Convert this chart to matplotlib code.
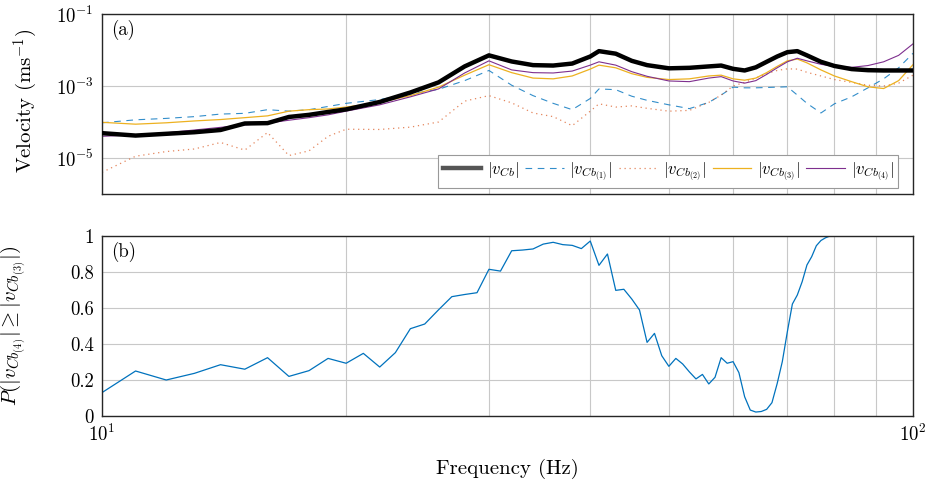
import numpy as np
import matplotlib
matplotlib.use("Agg")
import matplotlib.pyplot as plt
from matplotlib.ticker import FixedLocator, NullLocator, NullFormatter

plt.rcParams['font.family'] = 'serif'
plt.rcParams['font.serif'] = ['cmr10']
plt.rcParams['mathtext.fontset'] = 'cm'
plt.rcParams['axes.formatter.use_mathtext'] = True
plt.rcParams['axes.unicode_minus'] = False

# ---------------- data ----------------
freq_top = [10, 11, 12, 13, 14, 15, 16, 17, 18, 19, 20, 22, 24, 26, 28, 30, 32, 34, 36, 38,
            40, 41, 43, 45, 47, 50, 53, 56, 58, 60, 62, 64, 66, 68, 70, 72, 74, 77, 80, 84,
            88, 92, 96, 100]

v_cb = [4.9e-5, 4.2e-5, 4.7e-5, 5.2e-5, 6.0e-5, 9.1e-5, 9.3e-5, 1.38e-4, 1.58e-4, 1.9e-4,
        2.24e-4, 3.6e-4, 6.6e-4, 1.26e-3, 3.5e-3, 7.1e-3, 4.8e-3, 3.8e-3, 3.7e-3, 4.2e-3,
        6.6e-3, 9.3e-3, 7.9e-3, 5.0e-3, 3.8e-3, 3.1e-3, 3.2e-3, 3.5e-3, 3.7e-3, 3.0e-3,
        2.7e-3, 3.3e-3, 4.7e-3, 6.6e-3, 8.7e-3, 9.3e-3, 7.1e-3, 4.7e-3, 3.6e-3, 2.95e-3,
        2.75e-3, 2.7e-3, 2.7e-3, 2.7e-3]

v_cb1 = [9.5e-5, 1.15e-4, 1.26e-4, 1.41e-4, 1.66e-4, 1.74e-4, 2.2e-4, 2.0e-4, 2.2e-4, 2.7e-4,
         3.3e-4, 4.2e-4, 6.0e-4, 8.1e-4, 1.41e-3, 2.7e-3, 1.05e-3, 5.4e-4, 3.3e-4, 2.2e-4,
         4.5e-4, 8.3e-4, 7.9e-4, 5.2e-4, 4.0e-4, 3.0e-4, 2.35e-4, 3.5e-4, 5.6e-4, 9.3e-4,
         8.9e-4, 8.9e-4, 9.1e-4, 9.3e-4, 9.5e-4, 5.6e-4, 3.3e-4, 1.78e-4, 3.2e-4, 5.0e-4,
         8.9e-4, 1.58e-3, 3.2e-3, 8.1e-3]

v_cb2 = [4.0e-6, 1.12e-5, 1.51e-5, 1.78e-5, 2.7e-5, 1.66e-5, 5.1e-5, 1.17e-5, 1.58e-5, 4.0e-5,
         6.3e-5, 6.2e-5, 7.2e-5, 1.0e-4, 3.8e-4, 5.4e-4, 3.4e-4, 1.78e-4, 1.41e-4, 7.9e-5,
         2.0e-4, 3.2e-4, 2.6e-4, 2.8e-4, 2.4e-4, 2.0e-4, 2.1e-4, 3.5e-4, 5.6e-4, 1.0e-3,
         1.26e-3, 1.66e-3, 2.2e-3, 2.7e-3, 3.0e-3, 2.95e-3, 2.4e-3, 1.9e-3, 1.51e-3, 1.26e-3,
         1.05e-3, 1.0e-3, 1.2e-3, 2.0e-3]

v_cb3 = [9.8e-5, 8.7e-5, 9.5e-5, 1.07e-4, 1.17e-4, 1.32e-4, 1.48e-4, 2.0e-4, 2.2e-4, 2.3e-4,
         2.6e-4, 3.5e-4, 5.4e-4, 9.3e-4, 2.0e-3, 3.9e-3, 2.35e-3, 1.66e-3, 1.58e-3, 1.9e-3,
         2.95e-3, 3.8e-3, 3.2e-3, 2.2e-3, 1.74e-3, 1.51e-3, 1.58e-3, 1.9e-3, 2.0e-3, 1.58e-3,
         1.45e-3, 1.66e-3, 2.35e-3, 3.5e-3, 5.0e-3, 5.6e-3, 4.4e-3, 2.8e-3, 1.9e-3, 1.32e-3,
         9.5e-4, 8.5e-4, 1.41e-3, 3.9e-3]

v_cb4 = [4.0e-5, 4.4e-5, 5.0e-5, 6.0e-5, 7.1e-5, 8.3e-5, 9.3e-5, 1.12e-4, 1.32e-4, 1.58e-4,
         2.0e-4, 3.0e-4, 5.0e-4, 8.3e-4, 2.3e-3, 5.0e-3, 2.8e-3, 2.35e-3, 2.3e-3, 2.6e-3,
         3.8e-3, 4.7e-3, 3.8e-3, 2.5e-3, 1.86e-3, 1.38e-3, 1.32e-3, 1.66e-3, 1.82e-3, 1.38e-3,
         1.2e-3, 1.41e-3, 2.1e-3, 3.2e-3, 4.7e-3, 5.9e-3, 5.0e-3, 4.0e-3, 3.5e-3, 3.3e-3,
         3.7e-3, 4.7e-3, 7.1e-3, 1.48e-2]

freq_p = list(range(10, 101))
prob = [0.13, 0.25, 0.20, 0.237, 0.285, 0.26, 0.324, 0.22, 0.252, 0.32,
        0.293, 0.348, 0.272, 0.352, 0.485, 0.511, 0.59, 0.663, 0.675, 0.685,
        0.815, 0.805, 0.918, 0.922, 0.928, 0.955, 0.965, 0.952, 0.948, 0.93,
        0.972, 0.837, 0.90, 0.698, 0.704, 0.65, 0.589, 0.409, 0.459, 0.335,
        0.276, 0.32, 0.289, 0.245, 0.206, 0.231, 0.178, 0.215, 0.324, 0.293,
        0.302, 0.241, 0.107, 0.033, 0.022, 0.025, 0.037, 0.074, 0.18, 0.302,
        0.469, 0.622, 0.672, 0.746, 0.839, 0.885, 0.946, 0.975, 0.99, 1.0,
        1.0, 1.0, 1.0, 1.0, 1.0, 1.0, 1.0, 1.0, 1.0, 1.0,
        1.0, 1.0, 1.0, 1.0, 1.0, 1.0, 1.0, 1.0, 1.0, 1.0, 1.0]

labels = [r'$|v_{Cb}|$', r'$|v_{Cb_{(1)}}|$', r'$|v_{Cb_{(2)}}|$',
          r'$|v_{Cb_{(3)}}|$', r'$|v_{Cb_{(4)}}|$']

# ---------------- figure ----------------
W, H = 932, 480
fig = plt.figure(figsize=(W / 100, H / 100), dpi=100)

def rect(x0, y0, x1, y1):
    return [x0 / W, 1 - y1 / H, (x1 - x0) / W, (y1 - y0) / H]

ax1 = fig.add_axes(rect(102, 14, 913, 194))
ax2 = fig.add_axes(rect(102, 236, 913, 416))

grid_c = '#c8c8c8'
spine_c = '#262626'
fs_tick = 13.5
fs_lab = 15

for ax in (ax1, ax2):
    ax.set_xscale('log')
    ax.set_xlim(10, 100)
    ax.xaxis.set_major_locator(FixedLocator([10, 100]))
    ax.xaxis.set_minor_locator(FixedLocator([20, 30, 40, 50, 60, 70, 80, 90]))
    ax.xaxis.set_minor_formatter(NullFormatter())
    ax.grid(True, which='major', color=grid_c, lw=0.8)
    ax.grid(True, which='minor', axis='x', color=grid_c, lw=0.8)
    ax.set_axisbelow(True)
    ax.tick_params(which='both', length=0, labelsize=fs_tick, pad=6)
    for s in ax.spines.values():
        s.set_color(spine_c)
        s.set_linewidth(1.0)

# top panel
ax1.plot(freq_top, v_cb, color='black', lw=3.2, label=labels[0], zorder=5)
ax1.plot(freq_top, v_cb1, color='#0072BD', lw=0.8, ls=(0, (6, 5)), alpha=0.8, label=labels[1])
ax1.plot(freq_top, v_cb2, color='#D95319', lw=0.9, ls=(0, (1, 3)), alpha=0.7, label=labels[2])
ax1.plot(freq_top, v_cb3, color='#EDB120', lw=0.9, label=labels[3])
ax1.plot(freq_top, v_cb4, color='#7E2F8E', lw=0.8, label=labels[4])
ax1.set_yscale('log')
ax1.set_ylim(1e-6, 1e-1)
ax1.yaxis.set_major_locator(FixedLocator([1e-5, 1e-3, 1e-1]))
ax1.yaxis.set_minor_locator(NullLocator())
ax1.tick_params(axis='x', labelbottom=False)
ax1.set_ylabel(r'Velocity (ms$^{\mathrm{-1}}$)', fontsize=fs_lab)
ax1.yaxis.set_label_coords(-0.077, 0.52)
ax1.text(0.011, 0.91, '(a)', transform=ax1.transAxes, fontsize=fs_tick, va='center', ha='left')
leg = ax1.legend(loc='lower right', bbox_to_anchor=(0.982, 0.033), ncol=5, fontsize=12,
                 frameon=True, fancybox=False, edgecolor='#999999', framealpha=1,
                 handlelength=2.3, columnspacing=0.4, handletextpad=0.35,
                 borderpad=0.3, borderaxespad=0)
leg.get_frame().set_linewidth(0.8)
for h in leg.get_lines():
    if h.get_color() == 'black':
        h.set_color('#555555')

# bottom panel
ax2.plot(freq_p, prob, color='#0072BD', lw=0.9)
ax2.set_ylim(0, 1)
ax2.yaxis.set_major_locator(FixedLocator([0, 0.2, 0.4, 0.6, 0.8, 1.0]))
ax2.set_yticklabels(['0', '0.2', '0.4', '0.6', '0.8', '1'])
ax2.set_xlabel('Frequency (Hz)', fontsize=fs_lab, labelpad=10)
ax2.set_ylabel(r'$P(|v_{Cb_{(4)}}|\geq|v_{Cb_{(3)}}|)$', fontsize=fs_lab)
ax2.yaxis.set_label_coords(-0.091, 0.5)
ax2.text(0.011, 0.91, '(b)', transform=ax2.transAxes, fontsize=fs_tick, va='center', ha='left')

fig.savefig('out.png', dpi=100)
